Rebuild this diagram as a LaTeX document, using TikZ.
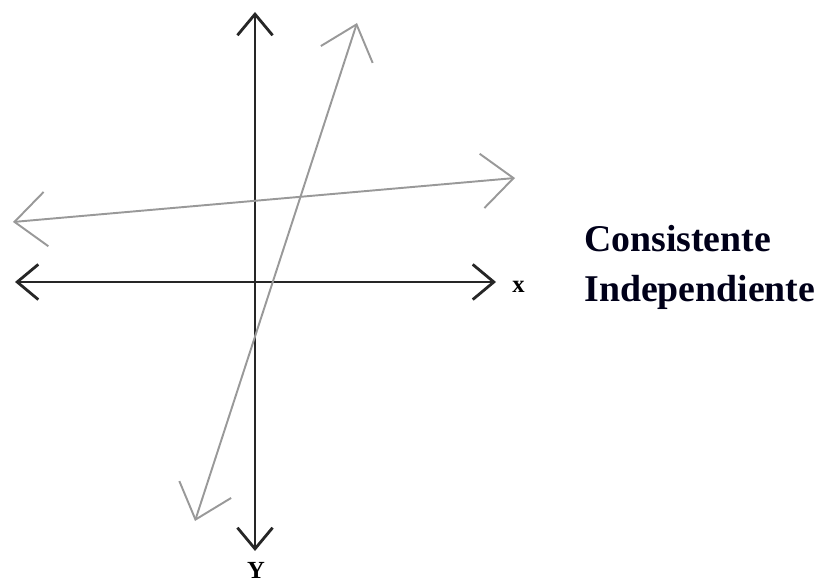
\documentclass[tikz,border=0pt]{standalone}
\usepackage{fontspec}
\setmainfont{Liberation Serif}
\usetikzlibrary{arrows.meta}

\begin{document}
\begin{tikzpicture}[x=0.02cm, y=-0.02cm,
  axis/.style={line width=1.6pt, black!85,
    {Straight Barb[length=12pt, width=20pt, line width=1.6pt]}-{Straight Barb[length=12pt, width=20pt, line width=1.6pt]}},
  sol/.style={line width=1.1pt, black!40,
    {Straight Barb[length=18pt, width=31pt, line width=1.1pt]}-{Straight Barb[length=18pt, width=31pt, line width=1.1pt]}},
  lbl/.style={inner sep=0pt, font=\fontsize{14}{16}\selectfont\bfseries}]
  \useasboundingbox (0,0) rectangle (822,584);
  % ejes
  \coordinate (xl) at (15,282);
  \coordinate (xr) at (496,282);
  \coordinate (yt) at (255,12);
  \coordinate (yb) at (255,551);
  \draw[axis] (xl) -- (xr);
  \draw[axis] (yt) -- (yb);
  \node[lbl, anchor=west] (xlab) at (512,287) {x};
  \node[lbl, anchor=north] (ylab) at (256,562) {Y};
  % rectas
  \coordinate (pa) at (13,222);
  \coordinate (pb) at (515,178);
  \coordinate (qa) at (195,521);
  \coordinate (qb) at (357,23);
  \draw[sol] (pa) -- (pb);
  \draw[sol] (qa) -- (qb);
  \node[anchor=base west, align=left, inner sep=0pt,
    font=\fontsize{21.5}{28.5}\selectfont\bfseries, text=black!90!blue]
    (tipo) at (584,302) {Consistente\\Independiente};
\end{tikzpicture}
\end{document}
